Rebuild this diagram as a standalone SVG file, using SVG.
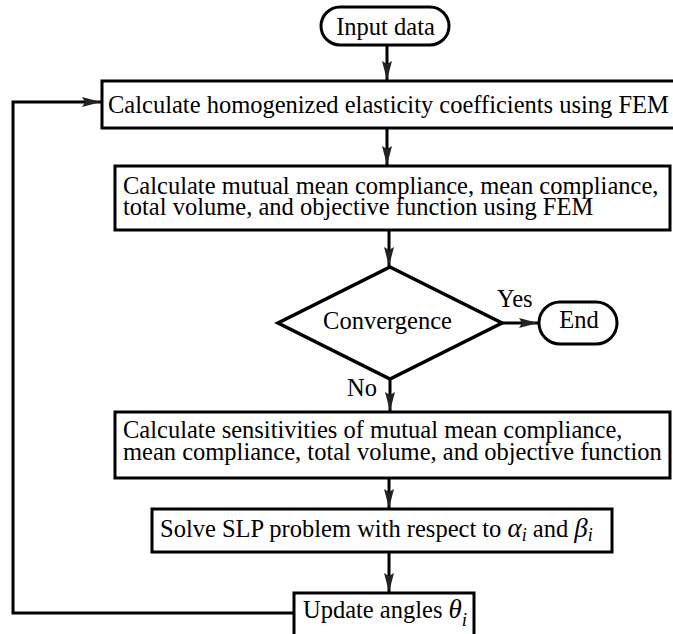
<svg xmlns="http://www.w3.org/2000/svg" width="673" height="634" viewBox="0 0 673 634">
  <style>
    .box { fill: #fff; stroke: #000; stroke-width: 3; }
    .dia { fill: #fff; stroke: #000; stroke-width: 3.5; stroke-linejoin: miter; }
    .t { font-family: "Liberation Serif", "Times New Roman", serif; font-size: 24.5px; fill: #000; }
    .m { font-family: "Liberation Serif", "Times New Roman", serif; font-style: italic; fill: #000; }
    .c { text-anchor: middle; }
    .wire { fill: none; stroke: #000; stroke-width: 3; }
  </style>
  <defs>
    <marker id="ah" markerUnits="userSpaceOnUse" markerWidth="20" markerHeight="12" refX="19" refY="5" orient="auto">
      <path d="M0,0 L19,5 L0,10 L3,5 z" fill="#222"/>
    </marker>
  </defs>

  <g id="connectors">
    <path class="wire" d="M387,45 V80" marker-end="url(#ah)"/>
    <path class="wire" d="M387,128 V165" marker-end="url(#ah)"/>
    <path class="wire" d="M389,230 V266" marker-end="url(#ah)"/>
    <path class="wire" d="M502,323 H538" marker-end="url(#ah)"/>
    <path class="wire" d="M390,379 V411" marker-end="url(#ah)"/>
    <path class="wire" d="M389,478 V508" marker-end="url(#ah)"/>
    <path class="wire" d="M389,552 V592" marker-end="url(#ah)"/>
    <path class="wire" d="M294,613 H13 V102 H101" marker-end="url(#ah)"/>
  </g>

  <g id="input">
    <rect class="box" x="321" y="7" width="128" height="38" rx="19"/>
    <text class="t c" x="385.5" y="35">Input data</text>
  </g>

  <g id="homog">
    <rect class="box" x="102" y="81" width="580" height="47"/>
    <text class="t" x="108" y="113">Calculate homogenized elasticity coefficients using FEM</text>
  </g>

  <g id="mutual">
    <rect class="box" x="115" y="166" width="555" height="64"/>
    <text class="t" x="123" y="194">Calculate mutual mean compliance, mean compliance,</text>
    <text class="t" x="123" y="215">total volume, and objective function using FEM</text>
  </g>

  <g id="convergence">
    <polygon class="dia" points="390,267 502,323 390,379 278,323"/>
    <text class="t c" x="387.5" y="329">Convergence</text>
  </g>

  <g id="end">
    <rect class="box" x="539" y="302" width="78" height="42" rx="21"/>
    <text class="t c" x="579" y="328">End</text>
  </g>

  <g id="labels">
    <text class="t" x="497" y="307">Yes</text>
    <text class="t" x="347" y="396">No</text>
  </g>

  <g id="sens">
    <rect class="box" x="115" y="412" width="555" height="66"/>
    <text class="t" x="123" y="438">Calculate sensitivities of mutual mean compliance,</text>
    <text class="t" x="123" y="460">mean compliance, total volume, and objective function</text>
  </g>

  <g id="slp">
    <rect class="box" x="152" y="509" width="460" height="43"/>
    <text class="t" x="160" y="537">Solve SLP problem with respect to <tspan class="m" font-size="27">α</tspan><tspan class="m" font-size="18" dy="4">i</tspan><tspan dy="-4"> and </tspan><tspan class="m" font-size="27">β</tspan><tspan class="m" font-size="18" dy="4">i</tspan></text>
  </g>

  <g id="update">
    <rect class="box" x="294" y="593" width="180" height="50"/>
    <text class="t" x="303" y="618">Update angles <tspan class="m" font-size="27">θ</tspan><tspan class="m" font-size="19" dy="8">i</tspan></text>
  </g>
</svg>
